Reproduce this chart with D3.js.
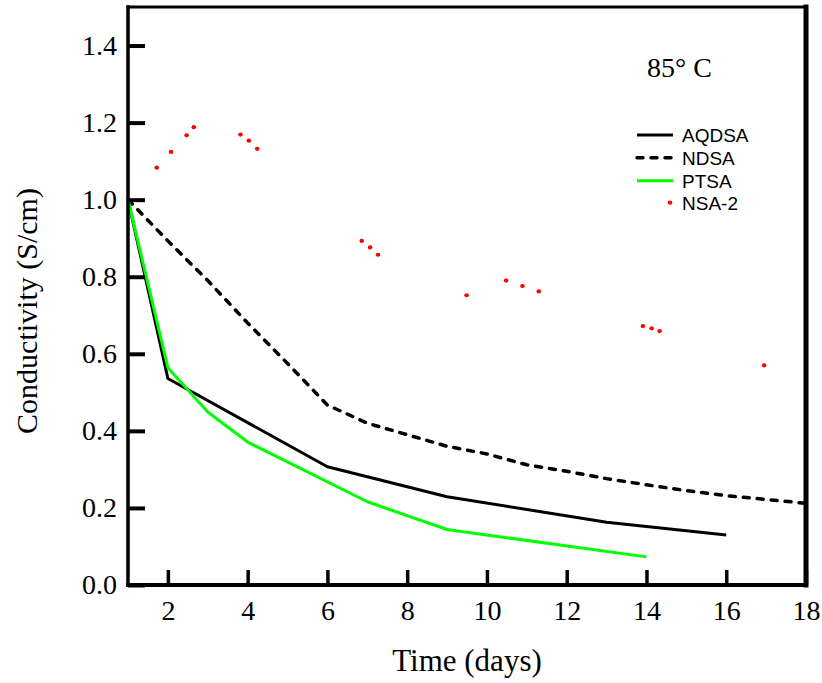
<!DOCTYPE html>
<html>
<head>
<meta charset="utf-8">
<script src="https://cdn.jsdelivr.net/npm/d3@7"></script>
<style>
  html, body { margin: 0; padding: 0; background: #fff; }
  svg { display: block; }
</style>
</head>
<body>
<svg id="chart" width="822" height="683"></svg>
<script>
// ---------- data ----------
const aqdsaDays = [1, 2, 6, 8, 9, 13, 16];
const aqdsaVals = [1.0, 0.536, 0.307, 0.255, 0.229, 0.163, 0.13];

const ndsaDays = [1, 2, 3, 4, 5, 6, 7, 8, 9, 10, 11, 12, 13, 14, 15, 16, 17, 18];
const ndsaVals = [1.0, 0.893, 0.79, 0.68, 0.575, 0.467, 0.42, 0.39, 0.36, 0.34, 0.312, 0.295, 0.276, 0.26, 0.245, 0.232, 0.222, 0.212];

const ptsaDays = [1, 2, 3, 4, 7, 9, 14];
const ptsaVals = [1.0, 0.564, 0.449, 0.371, 0.216, 0.144, 0.073];

const nsa2Days = [1.72, 2.08, 2.47, 2.65, 3.82, 4.03, 4.24, 6.86, 7.07, 7.27, 9.49, 10.48, 10.89, 11.30, 13.91, 14.13, 14.33, 16.95];
const nsa2Vals = [1.083, 1.124, 1.167, 1.188, 1.169, 1.153, 1.132, 0.893, 0.876, 0.857, 0.752, 0.79, 0.776, 0.762, 0.672, 0.666, 0.659, 0.570];

const xTicks = [2, 4, 6, 8, 10, 12, 14, 16, 18];
const yTicks = [0.0, 0.2, 0.4, 0.6, 0.8, 1.0, 1.2, 1.4];

const seriesNames = ["AQDSA", "NDSA", "PTSA", "NSA-2"];
const seriesColors = ["#000000", "#000000", "#00ff00", "#ff0000"];

const annotationText = "85° C";
const xTitle = "Time (days)";
const yTitle = "Conductivity (S/cm)";

// ---------- layout ----------
const svg = d3.select("#chart");
const serif = "'Liberation Serif', 'Times New Roman', Times, serif";
const sans = "'Liberation Sans', Arial, Helvetica, sans-serif";

const x = d3.scaleLinear().domain([1, 18]).range([128, 806]);
const y = d3.scaleLinear().domain([0, 1.5]).range([585, 7]);

const zip = (xs, ys) => xs.map((d, i) => ({ x: d, y: ys[i] }));
const line = d3.line().x(d => x(d.x)).y(d => y(d.y));

// ---------- series ----------
const g = svg.append("g");

g.append("path")
  .datum(zip(aqdsaDays, aqdsaVals))
  .attr("d", line)
  .attr("fill", "none")
  .attr("stroke", seriesColors[0])
  .attr("stroke-width", 3)
  .attr("stroke-linejoin", "round");

g.append("path")
  .datum(zip(ndsaDays, ndsaVals))
  .attr("d", line)
  .attr("fill", "none")
  .attr("stroke", seriesColors[1])
  .attr("stroke-width", 3.5)
  .attr("stroke-dasharray", "6,8")
  .attr("stroke-linecap", "round");

g.append("path")
  .datum(zip(ptsaDays, ptsaVals))
  .attr("d", line)
  .attr("fill", "none")
  .attr("stroke", seriesColors[2])
  .attr("stroke-width", 3)
  .attr("stroke-linejoin", "round");

g.selectAll("ellipse.nsa2")
  .data(zip(nsa2Days, nsa2Vals))
  .join("ellipse")
  .attr("class", "nsa2")
  .attr("cx", d => x(d.x))
  .attr("cy", d => y(d.y))
  .attr("rx", 2.3)
  .attr("ry", 2.1)
  .attr("fill", seriesColors[3]);

// ---------- axes ----------
const yAxis = d3.axisLeft(y)
  .tickValues(yTicks)
  .tickFormat(d3.format(".1f"))
  .tickSizeInner(-17)
  .tickSizeOuter(0)
  .tickPadding(11);

const yg = svg.append("g").attr("transform", `translate(${x.range()[0]},0)`).call(yAxis);
yg.select(".domain").remove();
yg.selectAll(".tick line").attr("stroke", "#000").attr("stroke-width", 4);
yg.selectAll(".tick text")
  .attr("font-family", serif)
  .attr("font-size", 28)
  .attr("fill", "#000");

const xAxis = d3.axisBottom(x)
  .tickValues(xTicks)
  .tickFormat(d3.format("d"))
  .tickSizeInner(-15)
  .tickSizeOuter(0)
  .tickPadding(15);

const xg = svg.append("g").attr("transform", `translate(0,${y.range()[0]})`).call(xAxis);
xg.select(".domain").remove();
xg.selectAll(".tick line").attr("stroke", "#000").attr("stroke-width", 3.5);
xg.selectAll(".tick text")
  .attr("font-family", serif)
  .attr("font-size", 28)
  .attr("fill", "#000");

// ---------- frame ----------
const [xl, xr] = x.range();
const [yb, yt] = y.range();
const frame = svg.append("g").attr("stroke", "#000").attr("stroke-linecap", "square");
frame.append("line").attr("x1", xl).attr("x2", xl).attr("y1", yt).attr("y2", yb).attr("stroke-width", 3.5);
frame.append("line").attr("x1", xl).attr("x2", xr).attr("y1", yb).attr("y2", yb).attr("stroke-width", 4);
frame.append("line").attr("x1", xl).attr("x2", xr).attr("y1", yt).attr("y2", yt).attr("stroke-width", 3);
frame.append("line").attr("x1", xr).attr("x2", xr).attr("y1", yt).attr("y2", yb).attr("stroke-width", 5);

// ---------- titles ----------
svg.append("text")
  .attr("x", (xl + xr) / 2)
  .attr("y", 671)
  .attr("text-anchor", "middle")
  .attr("font-family", serif)
  .attr("font-size", 31)
  .text(xTitle);

svg.append("text")
  .attr("transform", `translate(37,${(yb + yt) / 2 + 15}) rotate(-90)`)
  .attr("text-anchor", "middle")
  .attr("font-family", serif)
  .attr("font-size", 30)
  .text(yTitle);

svg.append("text")
  .attr("x", 647)
  .attr("y", 77)
  .attr("font-family", serif)
  .attr("font-size", 28)
  .text(annotationText);

// ---------- legend ----------
const legendY = [135, 157.7, 180.7, 202.7];
const lg = svg.append("g");
seriesNames.forEach((name, i) => {
  const yy = legendY[i];
  if (i === 3) {
    lg.append("ellipse").attr("cx", 670).attr("cy", yy).attr("rx", 2.3).attr("ry", 2.1).attr("fill", seriesColors[i]);
  } else {
    const l = lg.append("line")
      .attr("x1", 637).attr("x2", 673)
      .attr("y1", yy).attr("y2", yy)
      .attr("stroke", seriesColors[i])
      .attr("stroke-width", i === 1 ? 3.5 : 3);
    if (i === 1) l.attr("stroke-dasharray", "6,8").attr("stroke-linecap", "round");
  }
  lg.append("text")
    .attr("x", 682)
    .attr("y", yy + 7)
    .attr("font-family", sans)
    .attr("font-size", 19)
    .attr("fill", "#000")
    .text(name);
});
</script>
</body>
</html>
